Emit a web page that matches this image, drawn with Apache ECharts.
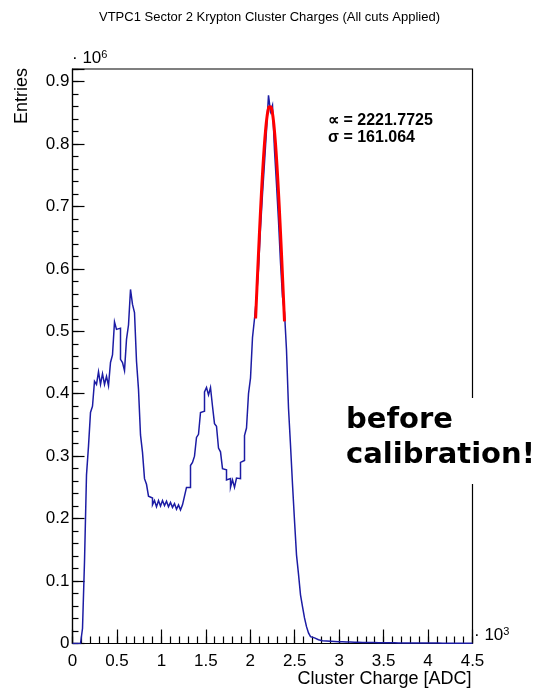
<!DOCTYPE html>
<html>
<head>
<meta charset="utf-8">
<script src="https://cdn.jsdelivr.net/npm/echarts@6/dist/echarts.min.js"></script>
<style>
  html, body { margin: 0; padding: 0; background: #fff; }
  #chart { width: 539px; height: 696px; }
</style>
</head>
<body>
<div id="chart"></div>
<script>
// Histogram binning: 200 bins of 22.5 ADC over 0 - 4500 ADC
const BIN_WIDTH = 22.5;
const X_MIN = 0;
const X_MAX = 4500;

// Bin contents in thousands of entries, one value per bin, starting at 0 ADC
const countsK = [
  0, 0, 0, 0, 3, 24, 131,
  270, 316, 370, 380, 420, 415, 435, 415, 432, 415, 428, 413, 450, 462,
  515, 503, 505, 455, 450, 437, 487, 510, 567, 543, 530, 452, 407, 334,
  306, 264, 255, 236, 233,
  222, 229, 219, 229, 220, 229, 221, 228, 219, 226, 218, 224, 215, 222, 214, 222,
  236, 250, 250, 285, 290, 300, 330, 335, 370, 372, 403, 410, 398, 410,
  380, 352, 348, 313, 307, 280, 278, 262, 264, 250, 262, 250, 265, 264,
  290, 293, 333, 345, 400, 425, 490, 520, 555, 600, 665, 720, 770, 822,
  878, 852, 862, 790, 735, 677, 610, 555, 530, 470, 377, 318, 255, 197,
  142, 111, 78, 59, 41, 27, 17, 11, 9, 7, 6, 5,
  4.5, 4.2, 4, 3.8, 3.6, 3.4, 3.2, 3, 2.9, 2.8, 2.7, 2.6, 2.5, 2.4, 2.3, 2.2,
  2.1, 2, 1.9, 1.9, 1.8, 1.7, 1.7, 1.6, 1.6, 1.5, 1.5, 1.4, 1.4, 1.3, 1.3, 1.3,
  1.2, 1.2, 1.2, 1.1, 1.1, 1.1, 1.0, 1.0, 1.0, 1.0, 0.9, 0.9, 0.9, 0.9, 0.9,
  0.8, 0.8, 0.8, 0.8, 0.8, 0.8, 0.7, 0.7, 0.7, 0.7, 0.7, 0.7, 0.7,
  0.6, 0.6, 0.6, 0.6, 0.6, 0.6, 0.6, 0.6, 0.5, 0.5, 0.5, 0.5, 0.5, 0.5, 0.5, 0.5
];

// Gaussian fit result (from the fit box) and its range
const FIT_MEAN = 2221.7725;
const FIT_SIGMA = 161.064;
const FIT_AMPLITUDE = 862000;
const FIT_RANGE = [2060, 2385];

// Axis tick steps (raw units)
const X_MAJOR = 500, X_MINOR = 100;
const Y_MAX = 920000, Y_MAJOR = 100000, Y_MINOR = 20000;

// Step outline: each bin contributes its two edges at the bin's height
const histData = [[X_MIN, 0]];
countsK.forEach((c, i) => {
  const lo = X_MIN + i * BIN_WIDTH;
  histData.push([lo, c * 1000], [lo + BIN_WIDTH, c * 1000]);
});

// Fit curve sampled across the fit range
const fitData = [];
for (let x = FIT_RANGE[0]; x <= FIT_RANGE[1] + 1e-9; x += 5) {
  const d = (x - FIT_MEAN) / FIT_SIGMA;
  fitData.push([x, FIT_AMPLITUDE * Math.exp(-0.5 * d * d)]);
}

const FONT = '"Liberation Sans", Arial, Helvetica, sans-serif';
const black = '#000';

const chart = echarts.init(document.getElementById('chart'));
chart.setOption({
  animation: false,
  backgroundColor: '#fff',
  // plot width of 400 px puts every bin edge on a half pixel (2 px per bin)
  grid: {
    left: 72.5, right: 66.5, top: 69, bottom: 52.5,
    show: true, borderColor: black, borderWidth: 1.2, backgroundColor: 'transparent'
  },
  xAxis: [
    {
      type: 'value', min: X_MIN, max: X_MAX, interval: X_MAJOR, position: 'bottom',
      axisLine: { show: true, lineStyle: { color: black, width: 1.2 } },
      axisTick: { show: true, inside: true, length: 14, lineStyle: { color: black, width: 1.2 } },
      axisLabel: {
        show: true, margin: 9, color: black, fontSize: 17, fontFamily: FONT,
        formatter: v => String(v / 1000)
      },
      splitLine: { show: false }
    },
    {
      type: 'value', min: X_MIN, max: X_MAX, interval: X_MINOR, position: 'bottom',
      axisLine: { show: false },
      axisTick: { show: true, inside: true, length: 7, lineStyle: { color: black, width: 1.2 } },
      axisLabel: { show: false },
      splitLine: { show: false }
    }
  ],
  yAxis: [
    {
      type: 'value', min: 0, max: Y_MAX, interval: Y_MAJOR, position: 'left',
      axisLine: { show: true, lineStyle: { color: black, width: 1.2 } },
      axisTick: { show: true, inside: true, length: 12, lineStyle: { color: black, width: 1.2 } },
      axisLabel: {
        show: true, margin: 3, color: black, fontSize: 17, fontFamily: FONT,
        formatter: v => (v % Y_MAJOR === 0 ? String(v / 1e6) : '')
      },
      splitLine: { show: false }
    },
    {
      type: 'value', min: 0, max: Y_MAX, interval: Y_MINOR, position: 'left',
      axisLine: { show: false },
      axisTick: { show: true, inside: true, length: 6, lineStyle: { color: black, width: 1.2 } },
      axisLabel: { show: false },
      splitLine: { show: false }
    }
  ],
  series: [
    {
      name: 'Cluster charge',
      type: 'line', xAxisIndex: 0, yAxisIndex: 0,
      data: histData, showSymbol: false, symbol: 'none', clip: true,
      lineStyle: { color: '#1c1ca4', width: 1.5, join: 'miter' }
    },
    {
      name: 'Gaussian fit',
      type: 'line', xAxisIndex: 0, yAxisIndex: 0,
      data: fitData, showSymbol: false, symbol: 'none', smooth: false,
      lineStyle: { color: '#ff0000', width: 3 }, z: 3
    }
  ],
  graphic: [
    {
      type: 'text', left: 'center', top: 11,
      style: { text: 'VTPC1 Sector 2 Krypton Cluster Charges (All cuts Applied)',
        font: '13px ' + FONT, fill: black }
    },
    {
      type: 'text', x: 72, y: 49,
      style: {
        text: '{d|·} {n|10}{s|6}', font: '17px ' + FONT, fill: black,
        rich: {
          d: { font: '17px ' + FONT, fill: black },
          n: { font: '17px ' + FONT, fill: black },
          s: { font: '11px ' + FONT, fill: black, verticalAlign: 'top', padding: [0, 0, 8, 0] }
        }
      }
    },
    {
      type: 'text', x: 474, y: 626,
      style: {
        text: '{d|·} {n|10}{s|3}', font: '17px ' + FONT, fill: black,
        rich: {
          d: { font: '17px ' + FONT, fill: black },
          n: { font: '17px ' + FONT, fill: black },
          s: { font: '11px ' + FONT, fill: black, verticalAlign: 'top', padding: [0, 0, 8, 0] }
        }
      }
    },
    {
      type: 'text', x: 471.5, y: 679, style: {
        text: 'Cluster Charge [ADC]', font: '18px ' + FONT, fill: black,
        align: 'right', verticalAlign: 'middle'
      }
    },
    {
      type: 'text', x: 22, y: 68, rotation: Math.PI / 2,
      style: {
        text: 'Entries', font: '18px ' + FONT, fill: black,
        align: 'right', verticalAlign: 'middle'
      }
    },
    {
      type: 'text', x: 328, y: 128.5, style: {
        text: '∝ = 2221.7725', font: 'bold 16px ' + FONT, fill: black,
        verticalAlign: 'bottom'
      }
    },
    {
      type: 'text', x: 328, y: 146, style: {
        text: 'σ = 161.064', font: 'bold 16px ' + FONT, fill: black,
        verticalAlign: 'bottom'
      }
    },
    // note box: white background over the frame
    {
      type: 'rect', shape: { x: 338, y: 398, width: 201, height: 86 },
      style: { fill: '#fff' }, z: 10
    },
    {
      type: 'text', x: 346, y: 420, z: 11, style: {
        text: 'before', font: 'bold 29px "DejaVu Sans", sans-serif', fill: black,
        verticalAlign: 'middle'
      }
    },
    {
      type: 'text', x: 346, y: 455, z: 11, style: {
        text: 'calibration!', font: 'bold 29px "DejaVu Sans", sans-serif', fill: black,
        verticalAlign: 'middle'
      }
    }
  ]
});
</script>
</body>
</html>
